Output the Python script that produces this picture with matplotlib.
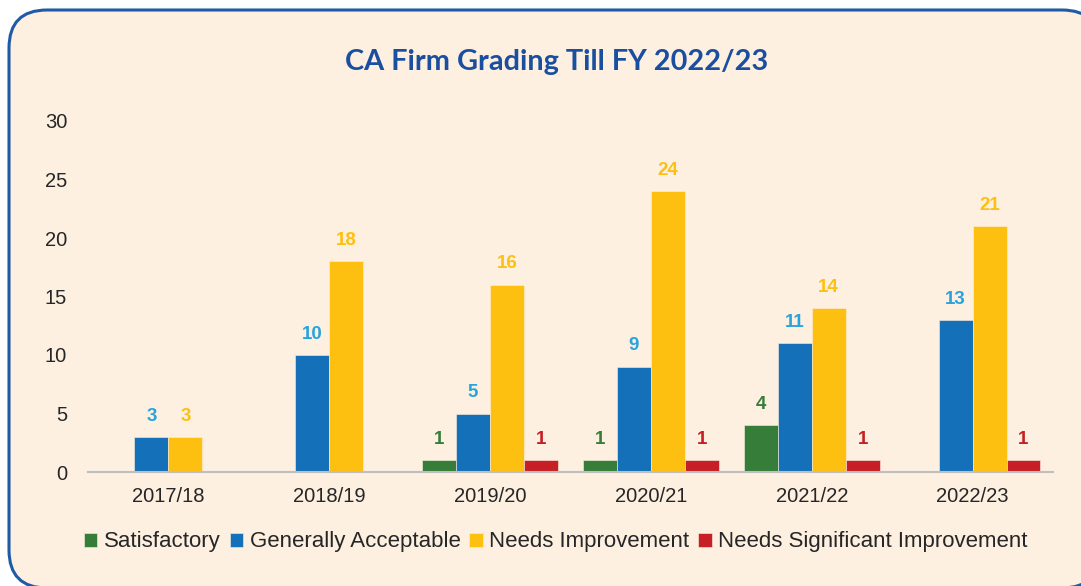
import numpy as np
import matplotlib.pyplot as plt
from matplotlib.patches import FancyBboxPatch

years = ["2017/18", "2018/19", "2019/20", "2020/21", "2021/22", "2022/23"]
satisfactory = [0, 0, 1, 1, 4, 0]
generally_acceptable = [3, 10, 5, 9, 11, 13]
needs_improvement = [3, 18, 16, 24, 14, 21]
needs_significant = [0, 0, 1, 1, 1, 1]

series = [
    ("Satisfactory", satisfactory, "#367d3a", "#367d3a"),
    ("Generally Acceptable", generally_acceptable, "#1470b8", "#29a3dc"),
    ("Needs Improvement", needs_improvement, "#fdc010", "#fdc010"),
    ("Needs Significant Improvement", needs_significant, "#c62026", "#c62026"),
]

plt.rcParams["font.family"] = ["Liberation Sans", "DejaVu Sans"]

W, H = 1081, 586
fig = plt.figure(figsize=(W / 100, H / 100), dpi=100, facecolor="white")

# background card with rounded blue border (right edge runs off the image)
bg = fig.add_axes([0, 0, 1, 1], zorder=0)
bg.set_xlim(0, W)
bg.set_ylim(0, H)
bg.axis("off")
card = FancyBboxPatch((9, -2), 1091, 578,
                      boxstyle="round,pad=0,rounding_size=38",
                      facecolor="#fdf0e1", edgecolor="#1f5aa6", linewidth=2.2)
bg.add_patch(card)

ax = fig.add_axes([88 / W, 114 / H, 965 / W, 351 / H], zorder=1)
ax.patch.set_alpha(0)

x = np.arange(len(years))
width = 0.211
for i, (name, vals, color, lab_color) in enumerate(series):
    pos = x + (i - 1.5) * width
    ax.bar(pos, vals, width=width, color=color, label=name,
           edgecolor="#fdf0e1", linewidth=0.4)
    for px, v in zip(pos, vals):
        if v > 0:
            ax.annotate(str(v), (px, v), xytext=(0, 15), textcoords="offset points",
                        ha="center", va="center", fontsize=13.5, fontweight="bold",
                        color=lab_color)

ax.set_xlim(-0.5, len(years) - 0.5)
ax.set_ylim(0, 30)
ax.set_yticks([0, 5, 10, 15, 20, 25, 30])
ax.set_xticks(x)
ax.set_xticklabels(years)
ax.tick_params(axis="both", length=0, labelsize=14.5, colors="#262626")
ax.tick_params(axis="y", pad=15)
ax.tick_params(axis="x", pad=11)
for s in ["top", "right", "left"]:
    ax.spines[s].set_visible(False)
ax.spines["bottom"].set_color("#bfbfbf")
ax.spines["bottom"].set_linewidth(1.5)

fig.text(557 / W, 1 - 62 / H, "CA Firm Grading Till FY 2022/23", ha="center", va="center",
         fontsize=20.8, fontweight="bold", color="#1a4fa0", family=["Lato", "DejaVu Sans"])

fig.legend(loc="center", bbox_to_anchor=(556 / W, 1 - 542 / H), ncol=4, frameon=False,
           fontsize=16, handlelength=0.6, handleheight=0.6, handletextpad=0.3,
           columnspacing=0.4, labelcolor="#262626")

fig.savefig("out.png", dpi=100, facecolor="white")
